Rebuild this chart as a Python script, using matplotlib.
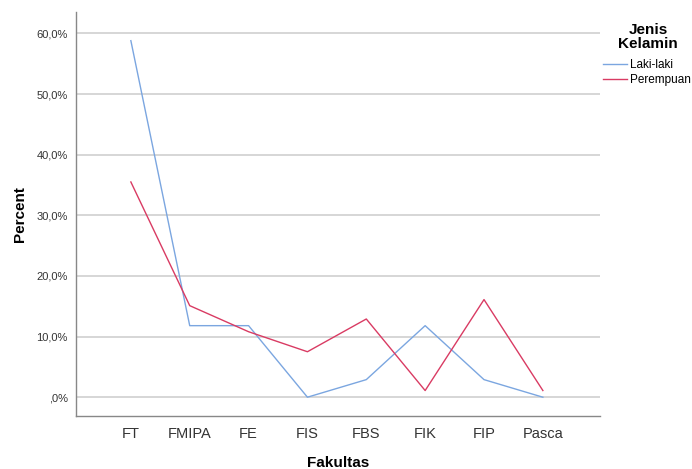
import matplotlib
matplotlib.use("Agg")
import matplotlib.pyplot as plt
from matplotlib.ticker import FuncFormatter

plt.rcParams["font.family"] = ["Liberation Sans", "DejaVu Sans"]

categories = ["FT", "FMIPA", "FE", "FIS", "FBS", "FIK", "FIP", "Pasca"]
laki = [58.8, 11.8, 11.8, 0.0, 2.9, 11.8, 2.9, 0.0]
perempuan = [35.5, 15.1, 10.8, 7.5, 12.9, 1.1, 16.1, 1.1]
yticks = [0, 10, 20, 30, 40, 50, 60]

W, H = 692, 469
fig = plt.figure(figsize=(W / 100, H / 100), dpi=100)
ax = fig.add_axes([0.110, 0.113, 0.757, 0.861])

x = list(range(len(categories)))
l1, = ax.plot(x, laki, color="#7BA6E0", lw=1.0, label="Laki-laki", zorder=3)
l2, = ax.plot(x, perempuan, color="#D93B63", lw=1.0, label="Perempuan", zorder=3)

ax.set_xlim(-0.93, 7.97)
ax.set_ylim(-3.1, 63.5)
ax.set_xticks(x)
ax.set_xticklabels(categories, fontsize=10.5, color="#333333")
ax.set_yticks(yticks)
ax.yaxis.set_major_formatter(FuncFormatter(lambda v, p: (",0%" if v == 0 else f"{v:.1f}%".replace(".", ","))))
ax.tick_params(axis="y", labelsize=8, length=0, pad=6, labelcolor="#333333")
ax.tick_params(axis="x", length=0, pad=8)
ax.grid(axis="y", color="#D0D0D0", lw=1.2, zorder=1)
ax.set_axisbelow(True)
for s in ["top", "right"]:
    ax.spines[s].set_visible(False)
for s in ["left", "bottom"]:
    ax.spines[s].set_color("#888888")
    ax.spines[s].set_linewidth(1.0)

ax.set_xlabel("Fakultas", fontsize=11, fontweight="bold", labelpad=11)
ax.set_ylabel("Percent", fontsize=11, fontweight="bold")
ax.yaxis.set_label_coords(-0.093, 0.5)

fig.text(648 / W, 1 - 30 / H, "Jenis", ha="center", va="center", fontsize=11, fontweight="bold")
fig.text(648 / W, 1 - 43.5 / H, "Kelamin", ha="center", va="center", fontsize=11, fontweight="bold")

leg = fig.legend(handles=[l1, l2], loc="upper left",
                 bbox_to_anchor=(603 / W, 1 - 59 / H), frameon=False, fontsize=8.5,
                 handlelength=2.0, handletextpad=0.25, labelspacing=0.25,
                 borderaxespad=0, borderpad=0)

fig.savefig("out.png", dpi=100)
